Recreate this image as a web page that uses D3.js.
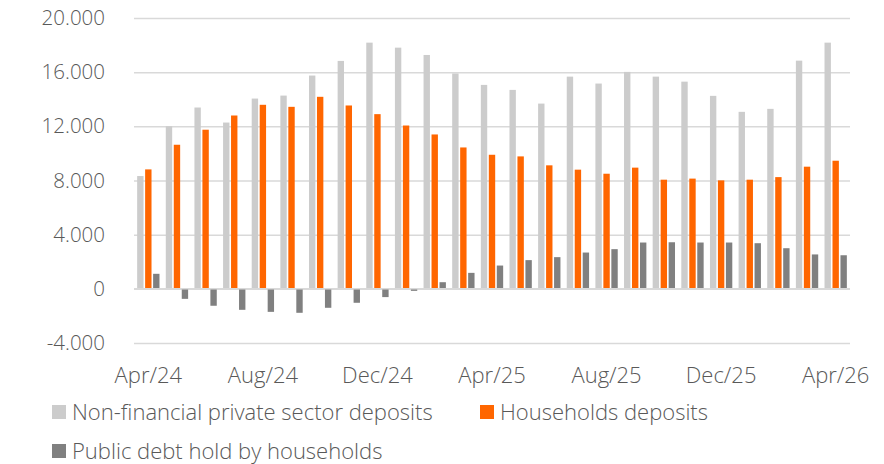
<!DOCTYPE html>
<html>
<head>
<meta charset="utf-8">
<script src="https://cdn.jsdelivr.net/npm/d3@7"></script>
<style>
  body { margin: 0; background: #fff; }
  svg text { font-family: "Open Sans", sans-serif; font-weight: 300; fill: #595959; }
</style>
</head>
<body>
<div id="chart"></div>
<script>
// months shown on the x axis
const months = ["Apr/24","May/24","Jun/24","Jul/24","Aug/24","Sep/24","Oct/24","Nov/24","Dec/24",
  "Jan/25","Feb/25","Mar/25","Apr/25","May/25","Jun/25","Jul/25","Aug/25","Sep/25","Oct/25",
  "Nov/25","Dec/25","Jan/26","Feb/26","Mar/26","Apr/26"];

const seriesNames = ["Non-financial private sector deposits", "Households deposits", "Public debt hold by households"];

const privateDeposits = [8330,12010,13390,12280,14050,14270,15750,16830,18180,17810,17270,15900,
  15060,14690,13680,15670,15160,16020,15670,15300,14250,13070,13290,16850,18180];
const householdDeposits = [8820,10640,11750,12800,13590,13440,14180,13540,12900,12060,11400,10440,
  9900,9780,9120,8800,8500,8950,8060,8140,8010,8060,8250,9020,9460];
const publicDebt = [1110,-740,-1250,-1550,-1700,-1770,-1400,-1030,-610,-150,490,1180,
  1720,2120,2340,2680,2930,3420,3440,3420,3420,3370,3000,2540,2480];

const yTicks = [-4000,0,4000,8000,12000,16000,20000];
const xTickLabels = ["Apr/24","Aug/24","Dec/24","Apr/25","Aug/25","Dec/25","Apr/26"];

const colors = ["#cccccc", "#ff6600", "#808080"];

const width = 884, height = 464;
const margin = {top: 18, right: 34, bottom: 121, left: 134};

const svg = d3.select("#chart").append("svg")
  .attr("width", width)
  .attr("height", height);

const x = d3.scaleBand()
  .domain(months)
  .range([margin.left, width - margin.right])
  .paddingInner(0.22)
  .paddingOuter(0.11);

const xSub = d3.scaleBand()
  .domain(d3.range(3))
  .range([0, x.bandwidth()])
  .paddingInner(0.2);

const y = d3.scaleLinear()
  .domain([-4000, 20000])
  .range([height - margin.bottom, margin.top]);

// thousands with a dot, plain hyphen for negatives
const fmt = d => (d < 0 ? "-" : "") + d3.format(",")(Math.abs(d)).replace(/,/g, ".");

// gridlines + y labels
const yAxis = svg.append("g")
  .attr("transform", `translate(${margin.left},0)`)
  .call(d3.axisLeft(y).tickValues(yTicks).tickFormat(fmt)
    .tickSize(-(width - margin.left - margin.right)).tickPadding(29));
yAxis.select(".domain").remove();
yAxis.selectAll(".tick line").attr("stroke", "#d9d9d9").attr("stroke-width", 1.5);
yAxis.selectAll(".tick text").attr("font-size", 20.5).attr("fill", "#595959");

const data = months.map((m, i) => ({month: m, values: [privateDeposits[i], householdDeposits[i], publicDebt[i]]}));

const groups = svg.append("g").selectAll("g")
  .data(data)
  .join("g")
  .attr("transform", d => `translate(${x(d.month)},0)`);

groups.selectAll("rect")
  .data(d => d.values.map((v, k) => ({k, v})))
  .join("rect")
  .attr("x", d => xSub(d.k))
  .attr("width", xSub.bandwidth())
  .attr("y", d => y(Math.max(0, d.v)))
  .attr("height", d => Math.abs(y(d.v) - y(0)))
  .attr("fill", d => colors[d.k]);

// zero line drawn above bars
svg.append("line")
  .attr("x1", margin.left).attr("x2", width - margin.right)
  .attr("y1", y(0)).attr("y2", y(0))
  .attr("stroke", "#d9d9d9").attr("stroke-width", 1.5);

// x labels below the plot
const xAxis = svg.append("g")
  .attr("transform", `translate(0,${height - margin.bottom})`)
  .call(d3.axisBottom(x).tickValues(xTickLabels).tickSize(0).tickPadding(24));
xAxis.select(".domain").remove();
xAxis.selectAll(".tick text").attr("font-size", 22).attr("fill", "#595959");

// legend
const legendItems = [
  {name: seriesNames[0], color: colors[0], x: 52, y: 412},
  {name: seriesNames[1], color: colors[1], x: 480, y: 412},
  {name: seriesNames[2], color: colors[2], x: 52, y: 451}
];
const legend = svg.append("g").selectAll("g")
  .data(legendItems)
  .join("g")
  .attr("transform", d => `translate(${d.x},${d.y})`);
legend.append("rect")
  .attr("x", 0).attr("y", -7).attr("width", 14).attr("height", 14)
  .attr("fill", d => d.color);
legend.append("text")
  .attr("x", 20).attr("y", 0).attr("dy", "0.35em")
  .attr("font-size", 22)
  .text(d => d.name);
</script>
</body>
</html>
